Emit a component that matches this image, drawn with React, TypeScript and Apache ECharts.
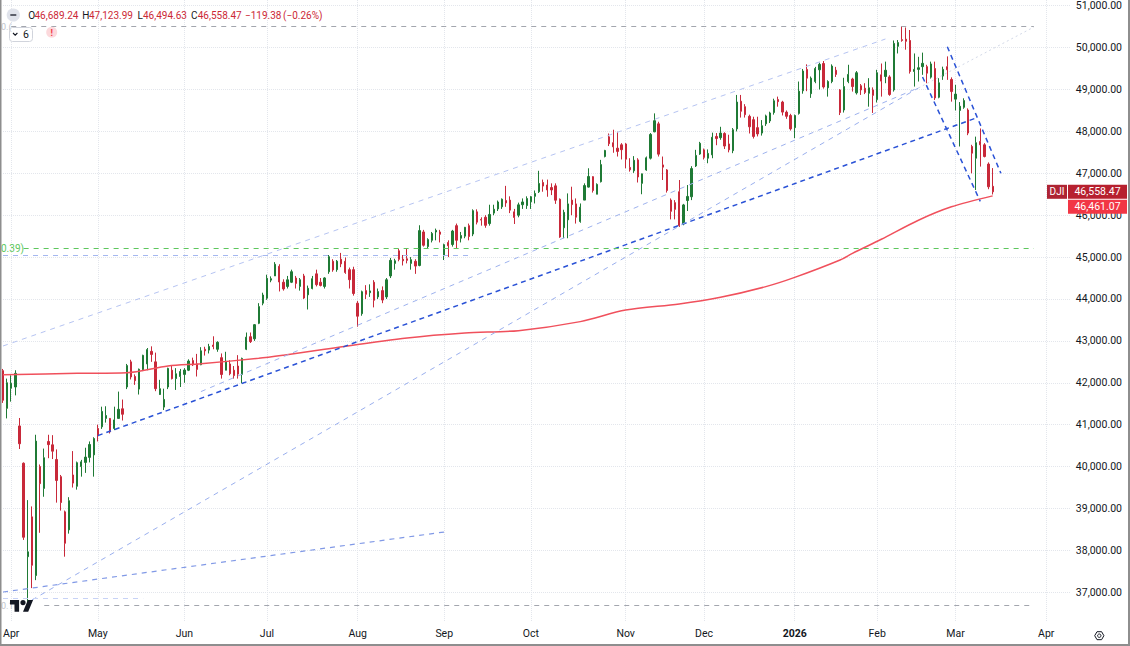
import React, { useEffect, useRef } from "react";
import * as echarts from "echarts";

const FONT = 'Roboto, "Liberation Sans", Arial, sans-serif';
const DARK = "#131722";
const RED_TEXT = "#cc2936";
const UP = "#1f7a35";
const DOWN = "#c8293a";

// Trading days shown on the time axis (incl. empty future slots)
const TRADING_DAYS: [string, number[]][] = [
  ["2025-03", [28, 31]],
  ["2025-04", [1, 2, 3, 4, 7, 8, 9, 10, 11, 14, 15, 16, 17, 21, 22, 23, 24, 25, 28, 29, 30]],
  ["2025-05", [1, 2, 5, 6, 7, 8, 9, 12, 13, 14, 15, 16, 19, 20, 21, 22, 23, 27, 28, 29, 30]],
  ["2025-06", [2, 3, 4, 5, 6, 9, 10, 11, 12, 13, 16, 17, 18, 20, 23, 24, 25, 26, 27, 30]],
  ["2025-07", [1, 2, 3, 7, 8, 9, 10, 11, 14, 15, 16, 17, 18, 21, 22, 23, 24, 25, 28, 29, 30, 31]],
  ["2025-08", [1, 4, 5, 6, 7, 8, 11, 12, 13, 14, 15, 18, 19, 20, 21, 22, 25, 26, 27, 28, 29]],
  ["2025-09", [2, 3, 4, 5, 8, 9, 10, 11, 12, 15, 16, 17, 18, 19, 22, 23, 24, 25, 26, 29, 30]],
  ["2025-10", [1, 2, 3, 6, 7, 8, 9, 10, 13, 14, 15, 16, 17, 20, 21, 22, 23, 24, 27, 28, 29, 30, 31]],
  ["2025-11", [3, 4, 5, 6, 7, 10, 11, 12, 13, 14, 17, 18, 19, 20, 21, 24, 25, 26, 28]],
  ["2025-12", [1, 2, 3, 4, 5, 8, 9, 10, 11, 12, 15, 16, 17, 18, 19, 22, 23, 24, 26, 29, 30, 31]],
  ["2026-01", [2, 5, 6, 7, 8, 9, 12, 13, 14, 15, 16, 20, 21, 22, 23, 26, 27, 28, 29, 30]],
  ["2026-02", [2, 3, 4, 5, 6, 9, 10, 11, 12, 13, 17, 18, 19, 20, 23, 24, 25, 26, 27]],
  ["2026-03", [2, 3, 4, 5, 6, 9, 10, 11, 12, 13, 16, 17, 18, 19, 20, 23, 24, 25, 26, 27, 30, 31]],
  ["2026-04", [1, 2, 6, 7, 8, 9, 10]],
];
const MONTHS = ["Jan", "Feb", "Mar", "Apr", "May", "Jun", "Jul", "Aug", "Sep", "Oct", "Nov", "Dec"];

// Daily candles: [open, high, low, close]
const CANDLES: number[][] = [
  [42290, 42330, 41520, 41583], [41390, 42100, 41150, 42001], [41870, 42180, 41550, 41989], [41900, 42300, 41700, 42225],
  [40970, 41160, 40420, 40545], [40080, 40100, 38250, 38314], [37850, 39200, 36611, 37966], [38800, 39050, 37100, 37645],
  [37400, 40760, 37290, 40608], [40000, 40050, 38420, 39593], [39480, 40430, 39280, 40212], [40600, 40760, 40200, 40524],
  [40520, 40750, 40180, 40368], [40170, 40410, 39140, 39669], [39760, 39800, 38950, 39142], [38920, 38950, 37850, 38170],
  [38490, 39270, 38400, 39186], [39800, 40370, 39500, 39606], [39530, 40120, 39450, 40093], [40000, 40160, 39760, 40113],
  [40100, 40450, 39850, 40227], [40220, 40600, 40100, 40527], [40280, 40700, 39760, 40669],
  // May
  [40910, 41000, 40600, 40753], [40950, 41430, 40900, 41317], [41150, 41440, 41050, 41219], [41150, 41160, 40790, 40829],
  [40910, 41430, 40870, 41114], [41150, 41790, 41150, 41368], [41380, 41600, 41100, 41249], [41900, 42450, 41850, 42410],
  [42500, 42550, 42080, 42140], [42150, 42200, 41950, 42051], [41850, 42340, 41720, 42323], [42310, 42670, 42280, 42655],
  [42450, 42830, 42300, 42792], [42750, 42870, 42500, 42677], [42500, 42720, 41800, 41860], [41720, 42070, 41710, 41859],
  [41420, 41860, 41350, 41603], [41900, 42360, 41850, 42344], [42300, 42400, 42080, 42099], [42100, 42350, 41830, 42216],
  [42150, 42330, 41900, 42270],
  // Jun
  [42200, 42350, 42000, 42305], [42300, 42560, 42280, 42520], [42530, 42600, 42400, 42428], [42450, 42690, 42150, 42320],
  [42430, 42850, 42420, 42763], [42800, 42860, 42650, 42762], [42780, 42930, 42700, 42867], [42900, 43110, 42800, 42866],
  [42800, 42990, 42740, 42968], [42600, 42700, 42100, 42198], [42300, 42740, 42300, 42515], [42450, 42540, 42180, 42216],
  [42300, 42400, 42100, 42172], [42400, 42660, 42100, 42207], [42200, 42600, 41990, 42582], [42800, 43200, 42780, 43089],
  [43100, 43200, 42950, 42982], [43050, 43400, 43000, 43387], [43420, 43900, 43400, 43819], [43900, 44150, 43850, 44095],
  // Jul
  [44020, 44580, 43980, 44495], [44450, 44540, 44400, 44484], [44550, 44880, 44550, 44829], [44780, 44830, 44180, 44406],
  [44400, 44470, 44200, 44241], [44300, 44550, 44250, 44458], [44400, 44700, 44380, 44651], [44500, 44550, 44250, 44372],
  [44300, 44500, 44200, 44460], [44550, 44600, 44000, 44023], [44100, 44320, 43750, 44255], [44250, 44550, 44230, 44484],
  [44600, 44700, 44300, 44342], [44400, 44500, 44300, 44323], [44300, 44520, 44250, 44502], [44650, 45050, 44600, 45010],
  [44900, 44950, 44650, 44694], [44700, 44930, 44650, 44902], [44950, 45100, 44760, 44838], [44900, 44990, 44600, 44633],
  [44700, 44750, 44250, 44461], [44700, 44770, 44080, 44131],
  // Aug
  [43900, 43950, 43340, 43589], [43650, 44200, 43600, 44174], [44200, 44330, 44000, 44112], [44150, 44350, 44050, 44193],
  [44400, 44450, 43800, 43969], [44050, 44250, 44000, 44176], [44200, 44300, 43900, 43975], [44050, 44500, 44000, 44459],
  [44550, 44980, 44500, 44922], [44850, 44960, 44700, 44912], [45150, 45200, 44900, 44946], [44950, 45050, 44800, 44911],
  [44960, 45200, 44850, 44922], [44850, 45000, 44700, 44938], [44900, 44950, 44600, 44786], [44800, 45760, 44780, 45632],
  [45600, 45650, 45250, 45282], [45250, 45450, 45200, 45418], [45400, 45600, 45350, 45565], [45600, 45680, 45400, 45637],
  [45600, 45650, 45350, 45545],
  // Sep
  [45050, 45320, 44930, 45296], [45350, 45400, 45000, 45271], [45300, 45650, 45250, 45621], [45750, 45800, 45200, 45401],
  [45450, 45600, 45350, 45515], [45500, 45720, 45450, 45711], [45750, 45800, 45400, 45491], [45550, 46140, 45500, 46108],
  [46080, 46140, 45780, 45834], [45900, 45950, 45750, 45883], [45950, 46000, 45700, 45758], [45800, 46250, 45750, 46018],
  [46050, 46250, 46000, 46142], [46150, 46350, 46100, 46315], [46200, 46400, 46150, 46382], [46350, 46700, 46200, 46293],
  [46360, 46450, 46050, 46121], [46080, 46150, 45790, 45947], [46000, 46300, 45950, 46247], [46250, 46400, 46150, 46316],
  [46230, 46450, 46150, 46398],
  // Oct
  [46320, 46460, 46150, 46441], [46450, 46590, 46280, 46520], [46560, 47060, 46530, 46758], [46780, 46850, 46560, 46695],
  [46720, 46850, 46440, 46603], [46660, 46760, 46480, 46602], [46700, 46760, 46270, 46358], [46380, 46400, 45460, 45480],
  [45700, 46130, 45450, 46068], [45890, 46520, 45450, 46270], [46360, 46680, 46000, 46253], [46270, 46400, 45800, 45952],
  [45850, 46280, 45820, 46191], [46360, 46760, 46360, 46707], [46670, 47120, 46660, 46925], [46920, 46930, 46540, 46590],
  [46500, 46760, 46500, 46735], [46800, 47320, 46780, 47207], [47400, 47560, 47380, 47545], [47870, 47950, 47650, 47706],
  [47730, 48040, 47490, 47632], [47600, 47990, 47400, 47522], [47680, 47720, 47330, 47563],
  // Nov
  [47700, 47720, 47120, 47337], [47140, 47360, 47040, 47085], [47060, 47410, 47010, 47311], [47320, 47360, 46780, 46912],
  [46760, 46990, 46500, 46987], [47080, 47400, 47060, 47369], [47360, 47960, 47330, 47928], [47990, 48430, 47980, 48255],
  [48180, 48230, 47400, 47457], [47200, 47400, 46840, 47147], [47080, 47100, 46540, 46590], [46360, 46400, 45900, 46092],
  [46300, 46360, 45900, 46139], [46560, 46840, 45720, 45752], [45790, 46270, 45760, 46245], [46350, 46720, 46100, 46448],
  [46440, 47170, 46360, 47112], [47175, 47560, 47150, 47427], [47460, 47750, 47440, 47716],
  // Dec
  [47560, 47590, 47330, 47380], [47360, 47570, 47240, 47475], [47440, 47970, 47360, 47860], [47880, 47960, 47670, 47830],
  [47850, 48110, 47800, 47960], [47950, 47980, 47580, 47650], [47700, 47920, 47500, 47560], [47540, 48080, 47480, 48040],
  [48060, 48870, 48000, 48700], [48720, 48870, 48330, 48480], [48590, 48650, 48330, 48400], [48360, 48400, 47950, 48110],
  [48280, 48350, 47830, 47880], [48090, 48350, 47880, 47940], [47960, 48270, 47900, 48135], [48180, 48400, 48130, 48370],
  [48250, 48470, 48200, 48440], [48450, 48780, 48400, 48730], [48760, 48830, 48590, 48710], [48700, 48730, 48380, 48460],
  [48460, 48500, 48300, 48360], [48380, 48420, 48020, 48060],
  // Jan 2026
  [48090, 48400, 47840, 48380], [48430, 49190, 48400, 48960], [48970, 49490, 48900, 49440], [49480, 49600, 48960, 49270],
  [48900, 49310, 48800, 49270], [49190, 49540, 49150, 49500], [49470, 49640, 49000, 49600], [49620, 49680, 49020, 49060],
  [49040, 49220, 48830, 49190], [49190, 49600, 49150, 49560], [49460, 49540, 49300, 49360], [48990, 49010, 48390, 48450],
  [48510, 49280, 48450, 49070], [49190, 49590, 49150, 49360], [49250, 49280, 48950, 49070], [48920, 49440, 48880, 49400],
  [49090, 49130, 48870, 48990], [49030, 49150, 48890, 48930], [48910, 49270, 48590, 49040], [48990, 49050, 48440, 48860],
  // Feb
  [48760, 49470, 48690, 49400], [49350, 49620, 48830, 49200], [49310, 49665, 49150, 49460], [49300, 49340, 48850, 48880],
  [48990, 50170, 48950, 50100], [50030, 50180, 49860, 50120], [50190, 50510, 50140, 50170], [50200, 50480, 49950, 50150],
  [50170, 50420, 49380, 49430], [49430, 49860, 49070, 49480], [49480, 49780, 49190, 49520], [49545, 49880, 49350, 49625],
  [49545, 49590, 49150, 49390], [49295, 49665, 49260, 49610], [49500, 49665, 48750, 48800], [48815, 49270, 48790, 49160],
  [49320, 49545, 49230, 49480], [49545, 49790, 49230, 49470], [49240, 49290, 48710, 48950],
  // Mar
  [48770, 49110, 48500, 48890], [48500, 48700, 47640, 48600], [48575, 48790, 48540, 48735], [48510, 48550, 47910, 47960],
  [47640, 47680, 47000, 47480], [47360, 47875, 46602, 47730], [47760, 48070, 47160, 47680], [47680, 47720, 47380, 47400],
  [47220, 47260, 46620, 46677.85], [46689.24, 47123.99, 46494.63, 46558.47],
];

// 200-day moving average, read at sparse points: [bar index, value]
const MA200: number[][] = [
  [0, 42190], [18, 42225], [30, 42240], [40, 42400], [48, 42455], [62, 42585], [68, 42660], [78, 42800],
  [98, 43070], [112, 43190], [125, 43245], [140, 43460], [151, 43735], [164, 43880], [174, 44040],
  [185, 44295], [192, 44515], [203, 44930], [206, 45090], [213, 45425], [222, 45880], [230, 46200], [240, 46461.07],
];

const PRICE_TICKS = [37000, 38000, 39000, 40000, 41000, 42000, 43000, 44000, 45000, 46000, 47000, 48000, 49000, 50000, 51000];
const Y_MIN = 36291;
const Y_MAX = 51136;

// Drawings: [from index, from price, to index, to price]
const DRAWINGS: { pts: number[]; color: string; width: number; dash: number[] }[] = [
  { pts: [0, 42878, 214, 50205], color: "#b6c4f2", width: 1, dash: [5, 5] },
  { pts: [23, 40740, 236, 48320], color: "#2a52d6", width: 1.5, dash: [5, 4] },
  { pts: [48, 41790, 222, 49040], color: "#9eb2ee", width: 1, dash: [5, 5] },
  { pts: [7, 36816, 222, 49036], color: "#9aafee", width: 1, dash: [5, 5] },
  { pts: [222, 49036, 250, 50491], color: "#d3d9e8", width: 1, dash: [2, 3] },
  { pts: [0, 37007, 107, 38439], color: "#8199e6", width: 1.2, dash: [5, 5] },
  { pts: [0, 36857, 34, 36857], color: "#c7d2f6", width: 1, dash: [5, 5] },
  { pts: [0, 45050, 113, 45050], color: "#a4b7f0", width: 1.2, dash: [5, 5] },
  { pts: [5, 45210, 250, 45210], color: "#5dc75d", width: 1.2, dash: [5, 5] },
  { pts: [2, 50509, 250, 50509], color: "#a3a6ae", width: 1, dash: [5, 5] },
  { pts: [10, 36680, 250, 36680], color: "#a3a6ae", width: 1, dash: [5, 5] },
  { pts: [229, 50021, 242, 47000], color: "#2a52d6", width: 1.5, dash: [5, 4] },
  { pts: [223, 49298, 237, 46330], color: "#2a52d6", width: 1.5, dash: [5, 4] },
];

const TV_LOGO = "M14 22H7V11H0V4h14v18zM28 22h-8l7.5-18h8L28 22zM24 8a4 4 0 1 1-8 0a4 4 0 1 1 8 0z";
let logoRegistered = false;
function ensureLogo() {
  if (logoRegistered) return;
  echarts.graphic.registerShape("tvlogo", echarts.graphic.extendPath(TV_LOGO, {}));
  logoRegistered = true;
}

const CATEGORIES: string[] = [];
const MONTH_LABELS: Record<number, string> = {};
TRADING_DAYS.forEach(([ym, days], mi) => {
  const [yy, mm] = ym.split("-").map(Number);
  days.forEach((d, k) => {
    if (k === 0 && mi > 0) MONTH_LABELS[CATEGORIES.length] = mm === 1 ? `{b|${yy}}` : MONTHS[mm - 1];
    CATEGORIES.push(`${ym}-${String(d).padStart(2, "0")}`);
  });
});

const fmt = (v: number) => v.toLocaleString("en-US", { minimumFractionDigits: 2, maximumFractionDigits: 2 });
const signed = (v: number) => (v < 0 ? "\u2212" : "+") + fmt(Math.abs(v));

function txt(text: string, x: number, y: number, fill: string, size = 10, align = "left", weight = "normal") {
  return {
    type: "text",
    x,
    y,
    silent: true,
    z: 10,
    style: {
      text,
      fill,
      font: `${weight} ${size}px ${FONT}`,
      textAlign: align,
      align,
      textVerticalAlign: "middle",
      verticalAlign: "middle",
    },
  };
}

function buildOption() {
  return {
    animation: false,
    backgroundColor: "#ffffff",
    textStyle: { fontFamily: FONT },
    grid: { left: 3, right: 59, top: 0, bottom: 24, containLabel: false },
    xAxis: {
      type: "category",
      data: CATEGORIES,
      boundaryGap: false,
      axisLine: { show: false },
      axisTick: { show: false },
      axisLabel: {
        interval: (i: number) => MONTH_LABELS[i] !== undefined,
        formatter: (_v: string, i: number) => MONTH_LABELS[i] ?? "",
        color: DARK,
        fontSize: 10.5,
        fontFamily: FONT,
        margin: 6,
        rich: { b: { fontWeight: "bold", fontSize: 10.5, color: DARK, fontFamily: FONT } },
      },
      splitLine: {
        show: true,
        interval: (i: number) => MONTH_LABELS[i] !== undefined,
        lineStyle: { color: "#e3e6ec", type: "dotted", width: 1 },
      },
    },
    yAxis: {
      type: "value",
      position: "right",
      min: Y_MIN,
      max: Y_MAX,
      splitNumber: 15,
      minInterval: 1000,
      maxInterval: 1000,
      axisLine: { show: false },
      axisTick: { show: false },
      splitLine: { show: false },
      axisLabel: {
        showMinLabel: false,
        showMaxLabel: false,
        align: "right",
        margin: 51,
        color: DARK,
        fontSize: 10.5,
        fontFamily: FONT,
        formatter: (v: number) => fmt(v),
      },
    },
    series: [
      {
        type: "candlestick",
        name: "DJI",
        data: CANDLES.map(([o, h, l, c]) => [o, c, l, h]),
        barWidth: 1.8,
        clip: false,
        silent: true,
        itemStyle: { color: UP, color0: DOWN, borderColor: UP, borderColor0: DOWN, borderWidth: 1 },
        markLine: {
          silent: true,
          symbol: ["none", "none"],
          label: { show: false },
          emphasis: { disabled: true },
          data: DRAWINGS.map((d) => [
            { coord: [d.pts[0], d.pts[1]], lineStyle: { color: d.color, width: d.width, type: d.dash } },
            { coord: [d.pts[2], d.pts[3]] },
          ]),
        },
      },
      {
        type: "line",
        name: "MA 200",
        data: MA200,
        showSymbol: false,
        symbol: "none",
        smooth: 0.3,
        silent: true,
        z: 3,
        lineStyle: { color: "#f0505c", width: 1.5 },
        markLine: {
          silent: true,
          z: 0,
          symbol: ["none", "none"],
          label: { show: false },
          emphasis: { disabled: true },
          lineStyle: { color: "#e3e6ec", type: "dotted", width: 1 },
          data: PRICE_TICKS.map((v) => ({ yAxis: v })),
        },
      },
    ],
  };
}

function buildGraphics(yClose: number, yMa: number) {
  const last = CANDLES[CANDLES.length - 1];
  const prev = CANDLES[CANDLES.length - 2][3];
  const chg = last[3] - prev;
  const pct = (chg / prev) * 100;
  const maLast = MA200[MA200.length - 1][1];
  const cx = 1099.3;
  const cy = 635.7;
  const hex: number[][] = [];
  for (let k = 0; k < 6; k++) {
    const a = (Math.PI / 3) * k;
    hex.push([cx + 4.6 * Math.cos(a), cy + 4.6 * Math.sin(a)]);
  }
  return [
    // legend row
    { type: "circle", z: 10, silent: true, shape: { cx: 13.3, cy: 15, r: 6.6 }, style: { fill: "#e0e3eb" } },
    { type: "rect", z: 11, silent: true, shape: { x: 10.3, y: 14, width: 6, height: 2 }, style: { fill: "#5d606b" } },
    txt("O", 28.3, 15, DARK),
    txt(fmt(last[0]), 34.5, 15, RED_TEXT),
    txt("H", 82.3, 15, DARK),
    txt(fmt(last[1]), 89, 15, RED_TEXT),
    txt("L", 137.5, 15, DARK),
    txt(fmt(last[2]), 143, 15, RED_TEXT),
    txt("C", 191, 15, DARK),
    txt(fmt(last[3]), 197.7, 15, RED_TEXT),
    txt(signed(chg), 245, 15, RED_TEXT),
    txt(`(${pct < 0 ? "\u2212" : "+"}${Math.abs(pct).toFixed(2)}%)`, 283, 15, RED_TEXT),
    // collapse box
    { type: "rect", z: 10, silent: true, shape: { x: 9.5, y: 27.5, width: 23, height: 14, r: 3 }, style: { fill: "#ffffff", stroke: "#d1d4dc", lineWidth: 1 } },
    { type: "polyline", z: 11, silent: true, shape: { points: [[13, 33], [15.2, 35.2], [17.4, 33]] }, style: { stroke: DARK, lineWidth: 1.1, fill: null } },
    txt("6", 26, 34.7, DARK, 10.5, "center"),
    { type: "circle", z: 10, silent: true, shape: { cx: 51.7, cy: 32.3, r: 5.5 }, style: { fill: "#fcd9dc" } },
    txt("!", 51.7, 32.5, "#f23645", 9, "center", "bold"),
    // left drawing labels
    txt("0.39)", 1, 248.3, "#5dc75d", 10),
    txt("0.(", 1, 26.5, "#c0c3ca", 9),
    txt("0.1(", 1, 605.5, "#c0c3ca", 9),
    // watermark logo
    { type: "tvlogo", z: 10, silent: true, x: 10, y: 597.4, scaleX: 0.65, scaleY: 0.65, style: { fill: DARK } },
    // price tags
    { type: "rect", z: 10, silent: true, shape: { x: 1047, y: yClose - 7, width: 20, height: 14 }, style: { fill: "#ae2433" } },
    txt("DJI", 1057, yClose, "#ffffff", 10, "center"),
    { type: "rect", z: 10, silent: true, shape: { x: 1068, y: yClose - 7, width: 59, height: 14 }, style: { fill: "#b7202f" } },
    txt(fmt(last[3]), 1097.5, yClose, "#ffffff", 10.5, "center"),
    { type: "rect", z: 10, silent: true, shape: { x: 1068, y: yMa - 7, width: 59, height: 14 }, style: { fill: "#f23645" } },
    txt(fmt(maLast), 1097.5, yMa, "#ffffff", 10.5, "center"),
    // settings gear
    { type: "polygon", z: 10, silent: true, shape: { points: hex }, style: { fill: null, stroke: DARK, lineWidth: 1 } },
    { type: "circle", z: 10, silent: true, shape: { cx, cy, r: 1.7 }, style: { fill: null, stroke: DARK, lineWidth: 1 } },
    // frame
    { type: "line", z: 12, silent: true, shape: { x1: 0.75, y1: 0, x2: 0.75, y2: 646 }, style: { stroke: "#8e8e8e", lineWidth: 1.5 } },
    { type: "line", z: 12, silent: true, shape: { x1: 1129, y1: 0, x2: 1129, y2: 646 }, style: { stroke: "#8e8e8e", lineWidth: 2 } },
    { type: "line", z: 12, silent: true, shape: { x1: 0, y1: 645, x2: 1130, y2: 645 }, style: { stroke: "#8e8e8e", lineWidth: 2 } },
  ];
}

export default function App() {
  const ref = useRef<HTMLDivElement>(null);
  useEffect(() => {
    document.body.style.margin = "0";
    ensureLogo();
    const chart = echarts.init(ref.current as HTMLDivElement, undefined, { renderer: "svg" });
    chart.setOption(buildOption() as any);
    const last = CANDLES[CANDLES.length - 1][3];
    const maLast = MA200[MA200.length - 1][1];
    const yClose = chart.convertToPixel({ yAxisIndex: 0 }, last) as number;
    const yMaRaw = chart.convertToPixel({ yAxisIndex: 0 }, maLast) as number;
    const yMa = Math.max(yMaRaw, yClose + 15);
    chart.setOption({ graphic: buildGraphics(yClose, yMa) } as any);
    return () => chart.dispose();
  }, []);
  return <div ref={ref} style={{ width: 1130, height: 646 }} />;
}
